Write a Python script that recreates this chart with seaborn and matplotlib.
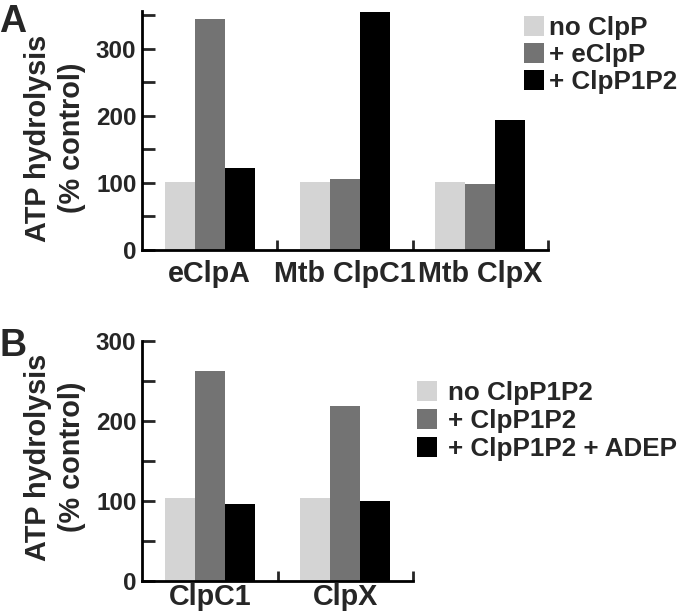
import matplotlib
matplotlib.use("Agg")
import matplotlib.pyplot as plt
from matplotlib.ticker import MultipleLocator, FixedLocator
import seaborn as sns
import pandas as pd

# ---- data ----
groups_a = ["eClpA", "Mtb ClpC1", "Mtb ClpX"]
conds_a = ["no ClpP", "+ eClpP", "+ ClpP1P2"]
vals_a_noclpp = [102, 102, 102]
vals_a_eclpp = [345, 106, 98]
vals_a_p1p2 = [123, 355, 194]

groups_b = ["ClpC1", "ClpX"]
conds_b = ["no ClpP1P2", "+ ClpP1P2", "+ ClpP1P2 + ADEP"]
vals_b_nop1p2 = [104, 104]
vals_b_p1p2 = [262, 218]
vals_b_adep = [96, 100]

colors = ["#d4d4d4", "#737373", "#000000"]

dfA = pd.DataFrame({
    "group": groups_a * 3,
    "condition": [c for c in conds_a for _ in groups_a],
    "value": vals_a_noclpp + vals_a_eclpp + vals_a_p1p2,
})
dfB = pd.DataFrame({
    "group": groups_b * 3,
    "condition": [c for c in conds_b for _ in groups_b],
    "value": vals_b_nop1p2 + vals_b_p1p2 + vals_b_adep,
})

sns.set_style("white")
plt.rcParams["font.family"] = ["Liberation Sans", "DejaVu Sans"]
plt.rcParams["font.weight"] = "bold"

W, H = 680, 614
fig = plt.figure(figsize=(W / 100, H / 100), dpi=100)

def px_axes(x0, x1, ytop, ybot):
    return fig.add_axes([x0 / W, 1 - ybot / H, (x1 - x0) / W, (ybot - ytop) / H])

axA = px_axes(142, 548, 11.4, 250)
axB = px_axes(142, 413, 340.7, 581)

def style(ax, df, order, hue_order, ylim, ngroups, xpad):
    sns.barplot(data=df, x="group", y="value", hue="condition", order=order,
                hue_order=hue_order, palette=colors, saturation=1, width=2 / 3,
                edgecolor="none", linewidth=0, ax=ax, errorbar=None)
    leg = ax.get_legend()
    if leg is not None:
        leg.remove()
    ax.set_xlim(-0.5, ngroups - 0.5)
    ax.set_ylim(*ylim)
    ax.set_xlabel("")
    ax.set_ylabel("")
    for s in ["top", "right"]:
        ax.spines[s].set_visible(False)
    for s in ["left", "bottom"]:
        ax.spines[s].set_linewidth(2)
        ax.spines[s].set_color("black")
    ax.yaxis.set_major_locator(MultipleLocator(100))
    ax.yaxis.set_minor_locator(MultipleLocator(50))
    ax.tick_params(axis="y", which="both", direction="in", length=9, width=2,
                   labelsize=17.5, pad=4, left=True)
    ax.xaxis.set_minor_locator(FixedLocator([i + 0.5 for i in range(ngroups)]))
    ax.tick_params(axis="x", which="minor", direction="in", length=7, width=2, bottom=True)
    ax.tick_params(axis="x", which="major", length=0, labelsize=20.7, pad=xpad)
    for lab in ax.get_xticklabels() + ax.get_yticklabels():
        lab.set_fontweight("bold")

style(axA, dfA, groups_a, conds_a, (0, 356), 3, 7.5)
style(axB, dfB, groups_b, conds_b, (0, 300), 2, 1.5)

hA, lA = axA.get_legend_handles_labels()
axA.legend(hA, lA, loc="upper left", bbox_to_anchor=(524 / W, 1 - 16 / H),
           bbox_transform=fig.transFigure, frameon=False,
           handlelength=0.78, handleheight=0.78, handletextpad=0.2,
           labelspacing=0.12, borderpad=0, borderaxespad=0,
           prop={"weight": "bold", "size": 18.7})
hB, lB = axB.get_legend_handles_labels()
axB.legend(hB, lB, loc="upper left", bbox_to_anchor=(417 / W, 1 - 381 / H),
           bbox_transform=fig.transFigure, frameon=False,
           handlelength=0.78, handleheight=0.78, handletextpad=0.4,
           labelspacing=0.15, borderpad=0, borderaxespad=0,
           prop={"weight": "bold", "size": 18.7})

ylab = "ATP hydrolysis\n(% control)"
fig.text(55 / W, 1 - 138 / H, ylab, rotation=90, ha="center", va="center",
         fontsize=20.8, fontweight="bold", linespacing=1.25, multialignment="center")
fig.text(55 / W, 1 - 457 / H, ylab, rotation=90, ha="center", va="center",
         fontsize=20.8, fontweight="bold", linespacing=1.25, multialignment="center")

fig.text(-1 / W, 1 - 4 / H, "A", ha="left", va="top", fontsize=27, fontweight="bold")
fig.text(-1 / W, 1 - 328 / H, "B", ha="left", va="top", fontsize=27, fontweight="bold")

fig.savefig("out.png", dpi=100)
